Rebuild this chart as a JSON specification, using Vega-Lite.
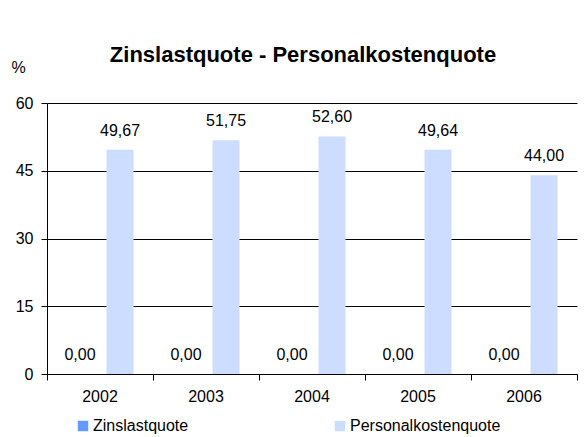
{
  "$schema": "https://vega.github.io/schema/vega-lite/v6.json",
  "width": 530,
  "height": 271,
  "autosize": "none",
  "padding": {"left": 47, "top": 103, "right": 11, "bottom": 63},
  "background": "white",
  "title": {
    "text": "Zinslastquote - Personalkostenquote",
    "font": "Liberation Sans",
    "fontSize": 22,
    "fontWeight": "bold",
    "color": "black",
    "anchor": "middle",
    "frame": "group",
    "dx": -9,
    "offset": -8
  },
  "config": {
    "locale": {"number": {"decimal": ",", "thousands": ".", "grouping": [3], "currency": ["", " €"]}},
    "font": "Liberation Sans",
    "view": {"stroke": null},
    "axis": {"labelFont": "Liberation Sans", "labelColor": "black", "labelFontSize": 16, "domainColor": "black", "tickColor": "black"}
  },
  "data": {
    "values": [
      {"year": "2002", "series": "Zinslastquote", "value": 0},
      {"year": "2002", "series": "Personalkostenquote", "value": 49.67},
      {"year": "2003", "series": "Zinslastquote", "value": 0},
      {"year": "2003", "series": "Personalkostenquote", "value": 51.75},
      {"year": "2004", "series": "Zinslastquote", "value": 0},
      {"year": "2004", "series": "Personalkostenquote", "value": 52.60},
      {"year": "2005", "series": "Zinslastquote", "value": 0},
      {"year": "2005", "series": "Personalkostenquote", "value": 49.64},
      {"year": "2006", "series": "Zinslastquote", "value": 0},
      {"year": "2006", "series": "Personalkostenquote", "value": 44.00}
    ]
  },
  "encoding": {
    "x": {
      "field": "year", "type": "nominal",
      "scale": {"paddingInner": 0, "paddingOuter": 0},
      "axis": {"title": null, "labelAngle": 0, "tickSize": 6, "bandPosition": 1, "tickExtra": true, "labelPadding": 8, "grid": false}
    },
    "xOffset": {
      "field": "series", "type": "nominal",
      "sort": ["Zinslastquote", "Personalkostenquote"],
      "scale": {"paddingInner": 0.325, "paddingOuter": 0.4875}
    },
    "y": {
      "field": "value", "type": "quantitative",
      "scale": {"domain": [0, 60], "nice": false},
      "axis": {
        "values": [0, 15, 30, 45, 60],
        "grid": true, "gridColor": "black", "gridOpacity": 1,
        "tickSize": 6, "labelPadding": 8,
        "title": "%", "titleAngle": 0, "titleAlign": "left", "titleBaseline": "alphabetic",
        "titleX": -36, "titleY": -31, "titleFontSize": 16, "titleFontWeight": "normal", "titleColor": "black", "titleFont": "Liberation Sans"
      }
    }
  },
  "layer": [
    {
      "mark": {"type": "bar"},
      "encoding": {
        "color": {
          "field": "series", "type": "nominal",
          "scale": {"domain": ["Zinslastquote", "Personalkostenquote"], "range": ["#6699FF", "#CCDDFF"]},
          "legend": {
            "title": null, "orient": "none", "direction": "horizontal",
            "legendX": 28, "legendY": 315,
            "symbolType": "square", "symbolSize": 110, "symbolStrokeWidth": 0,
            "labelFontSize": 16, "labelFont": "Liberation Sans", "labelColor": "black",
            "labelOffset": 2, "columnPadding": 143
          }
        }
      }
    },
    {
      "mark": {"type": "text", "dy": -14, "fontSize": 16, "color": "black", "baseline": "alphabetic"},
      "encoding": {
        "text": {"field": "value", "type": "quantitative", "format": ".2f"}
      }
    }
  ]
}
